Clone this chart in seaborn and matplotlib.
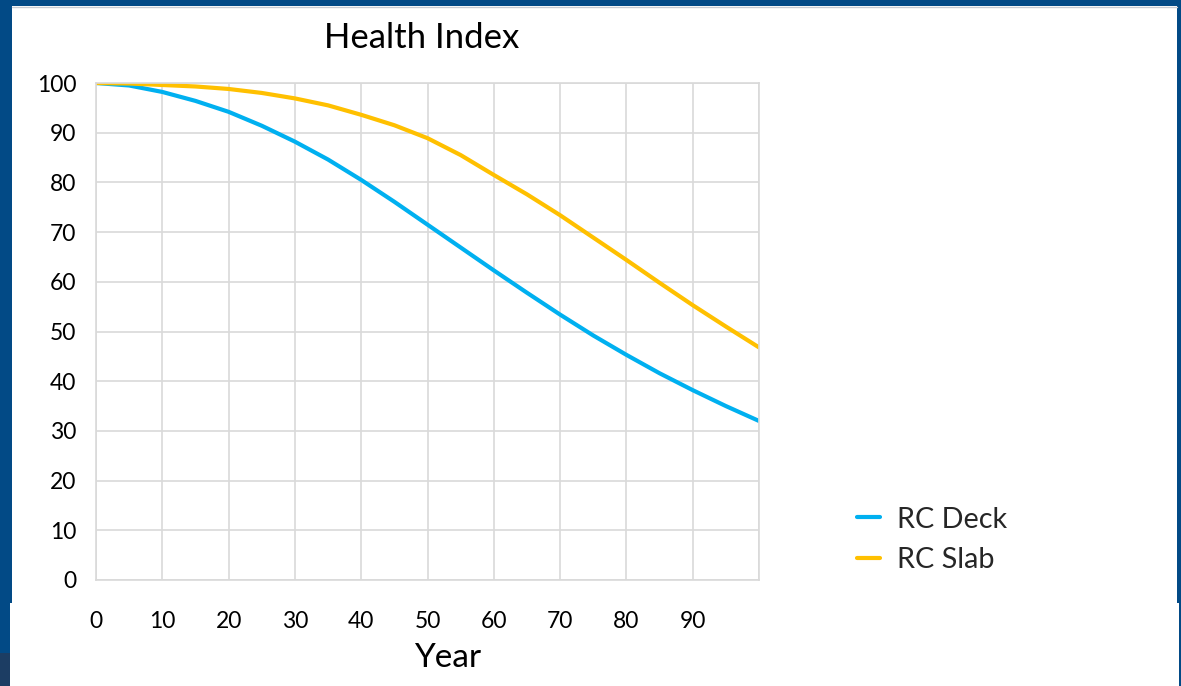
import matplotlib
matplotlib.use("Agg")
import matplotlib.pyplot as plt
from matplotlib.patches import Rectangle
from matplotlib.lines import Line2D
import pandas as pd
import seaborn as sns

# Health index over service life for two bridge element types
years = [0, 5, 10, 15, 20, 25, 30, 35, 40, 45, 50,
         55, 60, 65, 70, 75, 80, 85, 90, 95, 100]
rc_deck = [100.0, 99.5, 98.2, 96.4, 94.2, 91.4, 88.2, 84.6, 80.5, 76.1, 71.5,
           66.9, 62.3, 57.8, 53.4, 49.2, 45.3, 41.6, 38.2, 35.0, 32.0]
rc_slab = [100.0, 99.9, 99.6, 99.3, 98.8, 98.0, 96.9, 95.5, 93.6, 91.5, 88.9,
           85.5, 81.5, 77.6, 73.4, 68.9, 64.4, 59.8, 55.3, 51.0, 46.8]
series_names = ["RC Deck", "RC Slab"]
series_colors = ["#00B0F0", "#FFC000"]
x_ticks = [0, 10, 20, 30, 40, 50, 60, 70, 80, 90]
y_ticks = [0, 10, 20, 30, 40, 50, 60, 70, 80, 90, 100]

df = pd.concat([
    pd.DataFrame({"Year": years, "Health Index": rc_deck, "Element": series_names[0]}),
    pd.DataFrame({"Year": years, "Health Index": rc_slab, "Element": series_names[1]}),
])

sns.set_theme(style="white")
plt.rcParams["font.family"] = ["Lato", "DejaVu Sans"]

W, H = 1181, 686
fig = plt.figure(figsize=(W / 100, H / 100), dpi=100)
fig.patch.set_facecolor("#024A86")

def px_rect(x0, y0, x1, y1, color):
    fig.patches.append(Rectangle((x0 / W, 1 - y1 / H), (x1 - x0) / W, (y1 - y0) / H,
                                 transform=fig.transFigure, facecolor=color,
                                 edgecolor="none", zorder=-10))

# slide panel behind the chart
px_rect(12, 6, 1177, 686, "white")
px_rect(10, 603, 1179, 686, "white")
px_rect(0, 653, 10, 686, "#1C3D63")
fig.lines.append(Line2D([12 / W, 1177 / W], [1 - 6.5 / H, 1 - 6.5 / H],
                        transform=fig.transFigure, color="#C8CCD2", lw=1, zorder=-9))

ax = fig.add_axes([96 / W, 1 - 580 / H, (759 - 96) / W, (580 - 83) / H])
ax.set_facecolor("white")

sns.lineplot(data=df, x="Year", y="Health Index", hue="Element",
             palette=dict(zip(series_names, series_colors)),
             linewidth=3.0, ax=ax, legend=False)
for ln in ax.lines:
    ln.set_solid_joinstyle("round")
    ln.set_solid_capstyle("round")

ax.set_xlim(0, 100)
ax.set_ylim(0, 100)
ax.set_xticks(x_ticks + [100])
ax.set_xticklabels([str(t) for t in x_ticks] + [""])
ax.set_yticks(y_ticks)
ax.set_yticklabels([str(t) for t in y_ticks])
ax.grid(True, color="#D9D9D9", linewidth=1.2)
for s in ax.spines.values():
    s.set_color("#D9D9D9")
    s.set_linewidth(1.2)
ax.tick_params(axis="both", length=0, labelsize=16.5, colors="#000000")
ax.tick_params(axis="x", pad=22)
ax.tick_params(axis="y", pad=14)

ax.set_xlabel("")
ax.set_ylabel("")
fig.text(448 / W, 1 - 658 / H, "Year", fontsize=24, color="#000000",
         ha="center", va="center")
fig.text(422 / W, 1 - 38 / H, "Health Index", fontsize=25, color="#000000",
         ha="center", va="center")

handles = [Line2D([], [], color=c, lw=3.0) for c in series_colors]
fig.legend(handles, series_names, loc="center left",
           bbox_to_anchor=(857 / W, 1 - 540 / H), frameon=False,
           fontsize=20.7, handlelength=0.8, handletextpad=0.6, labelspacing=0.52,
           borderpad=0, borderaxespad=0)

fig.savefig("out.png", dpi=100, facecolor=fig.get_facecolor())
